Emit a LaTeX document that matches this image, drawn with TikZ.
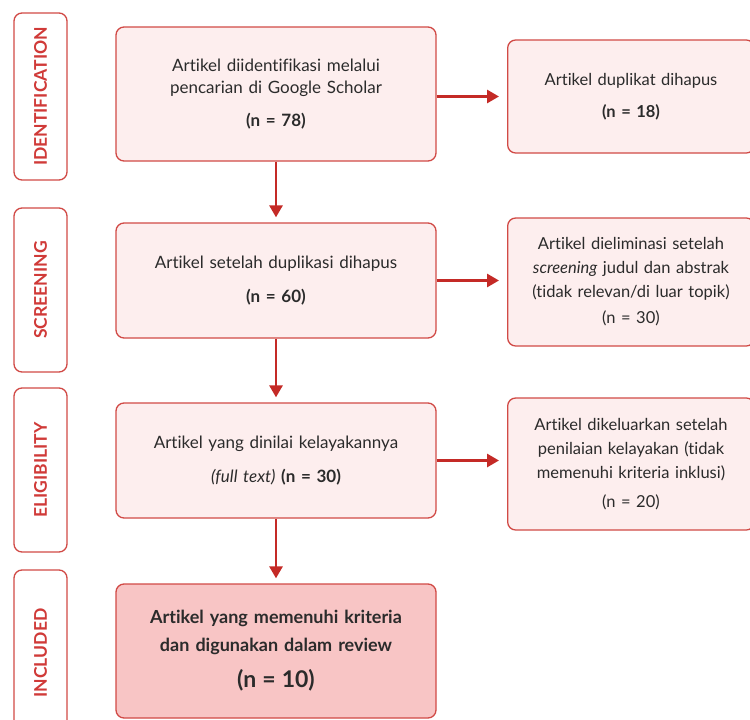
\documentclass[tikz,border=0pt]{standalone}
\usepackage{fontspec}
\setmainfont{Lato}[Ligatures=NoCommon]
\usepackage{tikz}
\usetikzlibrary{arrows.meta,calc}
\definecolor{boxred}{HTML}{D14A46}
\definecolor{arrowred}{HTML}{C42A26}
\definecolor{labelred}{HTML}{D03A38}
\definecolor{lightpink}{HTML}{FDEEEE}
\definecolor{strongpink}{HTML}{F8C5C5}
\definecolor{inktext}{HTML}{2B2B2B}

\begin{document}
\begin{tikzpicture}[x=1pt,y=-1pt,
  phase/.style={draw=boxred,line width=1.3pt,rounded corners=8pt,fill=white,
    minimum height=53pt,inner sep=0pt,text=labelred,
    font=\bfseries\fontsize{17.5}{20}\selectfont,rotate=90},
  mainbox/.style={draw=boxred,line width=1.3pt,rounded corners=8pt,fill=lightpink,
    minimum width=320pt,text width=304pt,align=center,text=inktext,
    font=\fontsize{17}{22}\selectfont},
  sidebox/.style={draw=boxred,line width=1.3pt,rounded corners=8pt,fill=lightpink,
    minimum width=246pt,text width=240pt,align=center,text=inktext,
    font=\fontsize{16.5}{24}\selectfont},
  flow/.style={draw=arrowred,line width=2.8pt,
    -{Triangle[length=12pt,width=13pt]}}]
\useasboundingbox (0,0) rectangle (750,720);
\fill[white] (0,0) rectangle (750,720);

% phase labels
\node[phase,minimum width=167pt] (idlab) at (40.5,96.5) {IDENTIFICATION};
\node[phase,minimum width=164pt] (sclab) at (40.5,290) {SCREENING};
\node[phase,minimum width=164pt] (ellab) at (40.5,470) {ELIGIBILITY};
\node[phase,minimum width=166pt] (inlab) at (40.5,653) {INCLUDED};

% main column
\node[mainbox,minimum height=134pt] (ident) at (276,94)
  {Artikel diidentifikasi melalui\\pencarian di Google Scholar\\[11pt]\textbf{(n = 78)}};
\node[mainbox,minimum height=115pt] (screen) at (276,280.5)
  {Artikel setelah duplikasi dihapus\\[12pt]\textbf{(n = 60)}};
\node[mainbox,minimum height=115pt] (elig) at (276,460.5)
  {Artikel yang dinilai kelayakannya\\[12pt]\textit{(full text)} \textbf{(n = 30)}};
\node[mainbox,minimum height=134pt,fill=strongpink,
  font=\bfseries\fontsize{18}{28}\selectfont] (incl) at (276,651)
  {Artikel yang memenuhi kriteria\\dan digunakan dalam review\\[8pt]{\fontsize{23}{26}\selectfont(n = 10)}};

% side column
\node[sidebox,minimum height=113pt] (dup) at (631,96.5)
  {Artikel duplikat dihapus\\[8pt]\textbf{(n = 18)}};
\node[sidebox,minimum height=128pt] (elim) at (631,282)
  {Artikel dieliminasi setelah\\\textit{screening} judul dan abstrak\\(tidak relevan/di luar topik)\\[2pt](n = 30)};
\node[sidebox,minimum height=132pt] (excl) at (631,464)
  {Artikel dikeluarkan setelah\\penilaian kelayakan (tidak\\memenuhi kriteria inklusi)\\[5pt](n = 20)};

% connectors
\draw[flow,shorten >=5pt] (ident) -- (screen);
\draw[flow,shorten >=5pt] (screen) -- (elig);
\draw[flow,shorten >=5pt] (elig) -- (incl);
\draw[flow,shorten >=8pt] (ident.east |- dup.west) -- (dup.west);
\draw[flow,shorten >=8pt] (screen.east) -- (screen.east -| elim.west);
\draw[flow,shorten >=8pt] (elig.east) -- (elig.east -| excl.west);
\end{tikzpicture}
\end{document}
